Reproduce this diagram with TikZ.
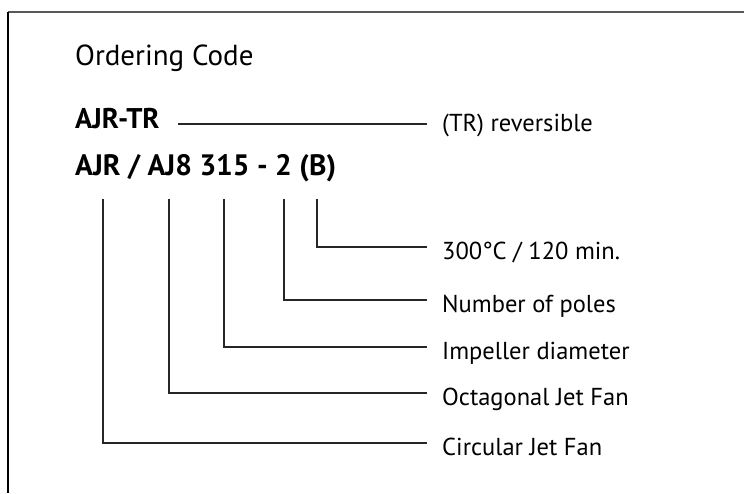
\documentclass[tikz,border=0pt]{standalone}
\usepackage{fontspec}
\setmainfont{PT Sans}
\usetikzlibrary{calc}
\begin{document}
\begin{tikzpicture}[x=1pt,y=-1pt,
  txt/.style={anchor=base west, inner sep=0pt, font=\fontsize{24.5}{28}\selectfont},
  ttl/.style={anchor=base west, inner sep=0pt, font=\fontsize{29}{34}\selectfont},
  trtxt/.style={anchor=base west, inner sep=0pt, font=\fontsize{28.5}{32}\selectfont\bfseries},
  codetxt/.style={anchor=base west, inner sep=0pt, font=\fontsize{29.5}{34}\selectfont\bfseries},
  conn/.style={draw=black!85, line width=1.1pt},
  topframe/.style={draw=black!65, line width=1.4pt},
  leftframe/.style={draw=black, line width=1.1pt}]
\useasboundingbox (0,0) rectangle (744,493);
\coordinate (fa) at (744,12);
\coordinate (fc) at (8,12);
\coordinate (fb) at (8,493);
\draw[topframe] (fc) -- (fa);
\draw[leftframe] (fc) -- (fb);

\node[ttl] (title) at (75,65) {Ordering Code};
\node[trtxt] (tr) at (75,128) {AJR-TR};
\node[txt] (rev) at (442,131) {(TR) reversible};
\node[codetxt] (code) at (75,175) {AJR / AJ8 315 - 2 (B)};

\node[txt] (l5) at (442,259.5) {300°C / 120 min.};
\node[txt] (l4) at (442,312.5) {Number of poles};
\node[txt] (l3) at (442,359.5) {Impeller diameter};
\node[txt] (l2) at (442,405.5) {Octagonal Jet Fan};
\node[txt] (l1) at (442,455.5) {Circular Jet Fan};

\coordinate (t1) at (103,199);
\coordinate (t2) at (169,199);
\coordinate (t3) at (224,199);
\coordinate (t4) at (284,199);
\coordinate (t5) at (317,199);

\draw[conn] ($(tr.base east)+(18,-4)$) -- ($(rev.base west)+(-15,-7)$);
\draw[conn] (t5) |- ($(l5.base west)+(-15,-12.5)$);
\draw[conn] (t4) |- ($(l4.base west)+(-15,-12.5)$);
\draw[conn] (t3) |- ($(l3.base west)+(-15,-12.5)$);
\draw[conn] (t2) |- ($(l2.base west)+(-15,-12.5)$);
\draw[conn] (t1) |- ($(l1.base west)+(-15,-12.5)$);
\end{tikzpicture}
\end{document}
